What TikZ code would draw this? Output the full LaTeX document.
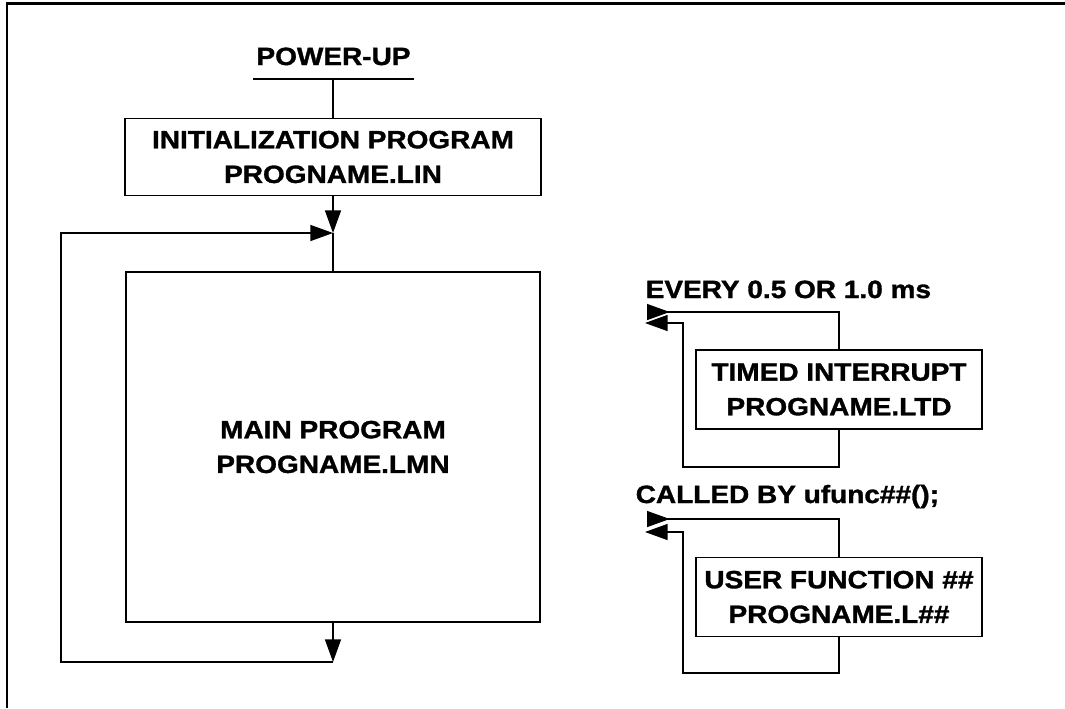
\documentclass[tikz,border=0pt]{standalone}
\usepackage{fontspec}
\setmainfont{Liberation Sans}[FakeStretch=1.12, BoldFeatures={FakeBold=1.3}]
\usepackage{tikz}
\usetikzlibrary{arrows.meta,positioning}

\begin{document}
\begin{tikzpicture}
    [
        x=0.75pt, y=-0.75pt,
        every node/.style={font=\fontsize{18.75}{26}\selectfont\bfseries},
        line width=1.1pt,
        arr/.tip={Triangle[length=17pt,width=12pt]},
        rectanglenode_init/.style={rectangle, draw, align=center, minimum width=312pt, minimum height=57.75pt},
        rectanglenode_main/.style={rectangle, draw, align=center, minimum width=310.5pt, minimum height=262.5pt},
        rectanglenode_side/.style={rectangle, draw, align=center, minimum width=214.5pt, minimum height=59pt},
        textnode/.style={inner sep=0pt, anchor=base west},
    ]
    \useasboundingbox (0,0) rectangle (1065,708);

    % frame
    \draw[line width=1.6pt] (7,708) -- (7,3.5) -- (1065,3.5);

    % left column
    \node[inner xsep=2pt, inner ysep=9.75pt, anchor=base] (powerup) at (333.5,65) {POWER-UP};
    \node[rectanglenode_init] (initprog) at (333,157) {INITIALIZATION PROGRAM\\PROGNAME.LIN};
    \node[rectanglenode_main] (mainprog) at (333,447) {MAIN PROGRAM\\PROGNAME.LMN};

    \coordinate (join) at (333,233);
    \coordinate (loopend) at (333,662);
    \coordinate (loopbl) at (61,662);
    \coordinate (looptl) at (61,233);

    \draw (powerup.south west) -- (powerup.south east);
    \draw (powerup.south -| initprog.north) -- (initprog.north);
    \draw[-arr] (initprog.south) -- (join);
    \draw (join) -- (mainprog.north);
    \draw[-arr] (mainprog.south) -- (loopend);
    \draw[-arr] (loopend) -- (loopbl) -- (looptl) -- (join);

    % right column
    \node[textnode] (textevery) at (645,298) {EVERY 0.5 OR 1.0 ms};
    \node[rectanglenode_side] (timedint) at (839,389.5) {TIMED INTERRUPT\\PROGNAME.LTD};
    \coordinate (timedin) at (647,312);
    \coordinate (timedbot) at (683,467);
    \coordinate (timedout) at (645,323);
    \draw[{arr[reversed]}-] (timedin) -| (timedint.north);
    \draw[-arr] (timedint.south) |- (timedbot) |- (timedout);

    \node[textnode] (textcalled) at (635,503) {CALLED BY ufunc\#\#();};
    \node[rectanglenode_side] (userfunc) at (839,597) {USER FUNCTION \#\#\\PROGNAME.L\#\#};
    \coordinate (userin) at (647,519);
    \coordinate (userbot) at (683,673);
    \coordinate (userout) at (645,532);
    \draw[{arr[reversed]}-] (userin) -| (userfunc.north);
    \draw[-arr] (userfunc.south) |- (userbot) |- (userout);

\end{tikzpicture}
\end{document}
